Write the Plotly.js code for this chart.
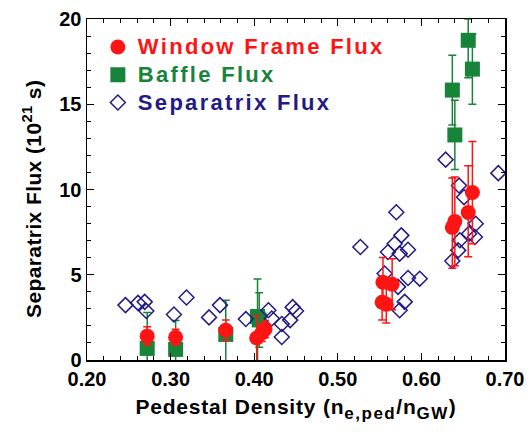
<!DOCTYPE html>
<html>
<head>
<meta charset="utf-8">
<script src="https://cdn.plot.ly/plotly-3.0.1.min.js"></script>
<style>html,body{margin:0;padding:0;background:#fff;}</style>
</head>
<body>
<div id="chart" style="width:530px;height:432px;"></div>
<script>
// Window Frame Flux (red circles)
const wfX = [0.272, 0.306, 0.366, 0.403, 0.409, 0.413, 0.554, 0.565, 0.553, 0.558, 0.637, 0.640, 0.656, 0.661];
const wfY = [1.40, 1.33, 1.75, 1.29, 1.58, 1.81, 4.56, 4.44, 3.39, 3.27, 7.78, 8.13, 8.65, 9.82];
const wfErrPlus  = [0.55, 0.47, 0.60, 1.30, 0.50, 0.50, 1.45, 1.50, 1.10, 1.10, 2.90, 2.60, 2.75, 3.00];
const wfErrMinus = [0.55, 0.47, 0.60, 1.35, 0.50, 0.50, 1.45, 1.50, 1.05, 1.10, 2.40, 2.60, 2.60, 3.00];

// Baffle Flux (green squares)
const bfX = [0.272, 0.306, 0.366, 0.404, 0.406, 0.637, 0.640, 0.656, 0.661];
const bfY = [0.68, 0.62, 1.50, 2.55, 2.35, 15.83, 13.20, 18.75, 17.06];
const bfErrPlus  = [2.10, 1.70, 2.00, 2.20, 1.60, 2.05, 2.03, 1.25, 2.06];
const bfErrMinus = [1.00, 0.90, 1.80, 2.60, 1.60, 2.05, 2.03, 2.20, 2.06];

// Separatrix Flux (open diamonds)
const spX = [0.246, 0.261, 0.269, 0.271, 0.304, 0.319, 0.346, 0.359, 0.390, 0.417, 0.421, 0.433, 0.443, 0.433, 0.446, 0.450,
             0.527, 0.570, 0.576, 0.568, 0.560, 0.574, 0.584, 0.556, 0.584, 0.598, 0.572, 0.580, 0.574,
             0.629, 0.692, 0.645, 0.651, 0.665, 0.657, 0.664, 0.646, 0.644, 0.637];
const spY = [3.22, 3.35, 3.41, 2.87, 2.67, 3.67, 2.50, 3.22, 2.40, 2.92, 2.43, 2.11, 2.34, 1.35, 3.10, 2.87,
             6.63, 8.67, 7.31, 6.82, 6.33, 6.24, 6.47, 5.07, 4.81, 4.77, 4.29, 3.41, 2.92,
             11.75, 10.96, 10.23, 9.55, 7.99, 7.41, 7.21, 7.02, 6.43, 5.81];

const seriesNames = ['Window Frame Flux', 'Baffle Flux', 'Separatrix Flux'];
const RED = '#ff1414', GREEN = '#17843a', NAVY = '#231a85';
const FONT = 'Liberation Sans, Arial, Helvetica, sans-serif';

function legendLabel(name, color) {
  return '<span style="color:' + color + ';font-size:22px;letter-spacing:2.3px">' + name + '</span>';
}

const traces = [
  {
    x: bfX, y: bfY, type: 'scatter', mode: 'markers', cliponaxis: false,
    name: legendLabel(seriesNames[1], GREEN),
    legendrank: 2,
    marker: {symbol: 'square', size: 15, color: GREEN},
    error_y: {type: 'data', symmetric: false, array: bfErrPlus, arrayminus: bfErrMinus,
              color: GREEN, thickness: 1.5, width: 4}
  },
  {
    x: spX, y: spY, type: 'scatter', mode: 'markers', cliponaxis: false,
    name: legendLabel(seriesNames[2], NAVY),
    legendrank: 3,
    marker: {symbol: 'diamond-open', size: 11.5, color: NAVY, line: {width: 1.5, color: NAVY}}
  },
  {
    x: wfX, y: wfY, type: 'scatter', mode: 'markers', cliponaxis: false,
    name: legendLabel(seriesNames[0], RED),
    legendrank: 1,
    marker: {symbol: 'circle', size: 15, color: RED},
    error_y: {type: 'data', symmetric: false, array: wfErrPlus, arrayminus: wfErrMinus,
              color: RED, thickness: 1.5, width: 4}
  }
];

const axisCommon = {
  showline: true, linewidth: 1.5, linecolor: '#000', mirror: 'ticks',
  ticks: 'inside', ticklen: 7, tickwidth: 1.2, tickcolor: '#000',
  showgrid: false, zeroline: false,
  tickfont: {family: FONT, size: 20, color: '#000', weight: 'bold'}
};

const layout = {
  width: 530, height: 432,
  margin: {l: 87, r: 25, t: 19, b: 72},
  paper_bgcolor: '#fff', plot_bgcolor: '#fff',
  showlegend: true,
  legend: {x: 0.026, y: 0.973, xanchor: 'left', yanchor: 'top', bgcolor: 'rgba(0,0,0,0)',
           font: {family: FONT, size: 19, weight: 'bold'}, traceorder: 'normal'},
  xaxis: Object.assign({}, axisCommon, {
    range: [0.2, 0.7], tick0: 0.2, dtick: 0.1, tickformat: '.2f',
    minor: {dtick: 0.02, ticklen: 4, tickwidth: 1, tickcolor: '#000', ticks: 'inside'},
    title: {text: '<span style="letter-spacing:0.8px">Pedestal Density (n<sub><span style="font-size:17px;letter-spacing:1.5px">e,ped</span></sub>/n<sub><span style="font-size:17px;letter-spacing:1.5px">GW</span></sub>)</span>',
            standoff: 11,
            font: {family: FONT, size: 21, color: '#000', weight: 'bold'}}
  }),
  yaxis: Object.assign({}, axisCommon, {
    range: [0, 20], tick0: 0, dtick: 5,
    minor: {dtick: 1, ticklen: 4, tickwidth: 1, tickcolor: '#000', ticks: 'inside'},
    title: {text: '<span style="letter-spacing:0.4px">Separatrix Flux (10<sup>21</sup> s)&nbsp;&nbsp;&nbsp;</span>', standoff: 12,
            font: {family: FONT, size: 21, color: '#000', weight: 'bold'}}
  })
};

Plotly.newPlot('chart', traces, layout, {displayModeBar: false, staticPlot: true});
</script>
</body>
</html>
